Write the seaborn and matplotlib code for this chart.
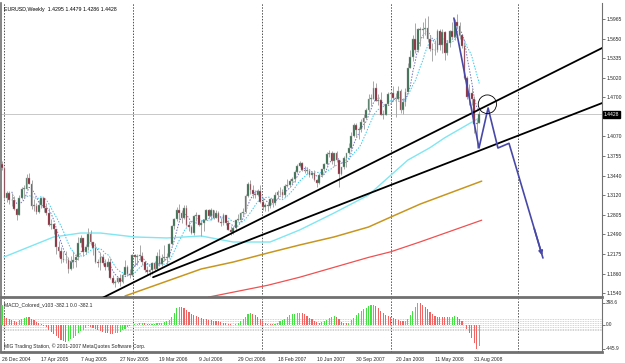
import numpy as np
import pandas as pd
import matplotlib.pyplot as plt
import seaborn as sns
from matplotlib.patches import Ellipse

# weekly EURUSD bars, first bar = week of 26 Dec 2004
first_open = 1.3620
closes = [1.3560, 1.3080, 1.3160, 1.3050, 1.3040, 1.2900, 1.2800, 1.3080, 1.3230, 1.3230,
          1.3400, 1.3310, 1.2950, 1.2950, 1.2850, 1.2960, 1.3070, 1.2920, 1.2840, 1.2640,
          1.2660, 1.2570, 1.2280, 1.2230, 1.2100, 1.2070, 1.2080, 1.1930, 1.2050, 1.2080,
          1.2120, 1.2350, 1.2430, 1.2200, 1.2280, 1.2500, 1.2370, 1.2270, 1.2040, 1.2030,
          1.2130, 1.2030, 1.1970, 1.2040, 1.1780, 1.1710, 1.1730, 1.1780, 1.1720, 1.1840,
          1.1970, 1.1850, 1.1840, 1.2160, 1.2120, 1.2140, 1.2150, 1.2040, 1.1920, 1.1880,
          1.1910, 1.2030, 1.1930, 1.2150, 1.2010, 1.2110, 1.2110, 1.2120, 1.2340, 1.2630,
          1.2740, 1.2890, 1.2830, 1.2750, 1.2920, 1.2640, 1.2610, 1.2520, 1.2790, 1.2810,
          1.2640, 1.2670, 1.2730, 1.2880, 1.2790, 1.2880, 1.2760, 1.2840, 1.2690, 1.2680,
          1.2800, 1.2680, 1.2560, 1.2530, 1.2600, 1.2720, 1.2730, 1.2840, 1.2850, 1.3110,
          1.3300, 1.3200, 1.3140, 1.3130, 1.3190, 1.3010, 1.2940, 1.2960, 1.2950, 1.3060,
          1.2990, 1.3130, 1.3170, 1.3180, 1.3120, 1.3270, 1.3290, 1.3350, 1.3390, 1.3500,
          1.3590, 1.3650, 1.3530, 1.3510, 1.3520, 1.3450, 1.3480, 1.3370, 1.3320, 1.3450,
          1.3540, 1.3620, 1.3780, 1.3810, 1.3680, 1.3800, 1.3690, 1.3470, 1.3570, 1.3730,
          1.3800, 1.3880, 1.4080, 1.4260, 1.4180, 1.4190, 1.4310, 1.4370, 1.4500, 1.4680,
          1.4680, 1.4850, 1.4640, 1.4660, 1.4420, 1.4420, 1.4590, 1.4750, 1.4770, 1.4690,
          1.4670, 1.4800, 1.4500, 1.4620, 1.4790, 1.5180, 1.5350, 1.5640, 1.5460, 1.5800,
          1.5780, 1.5810, 1.5820, 1.5640, 1.5480, 1.5460, 1.5470, 1.5770, 1.5540, 1.5760,
          1.5420, 1.5570, 1.5770, 1.5670, 1.5920, 1.5860, 1.5710, 1.5530, 1.5010, 1.4710,
          1.4770, 1.4670, 1.4270, 1.4295, 1.4428]
highs = [1.3667, 1.3580, 1.3190, 1.3190, 1.3160, 1.3110, 1.2910, 1.3120, 1.3260, 1.3280,
         1.3470, 1.3480, 1.3370, 1.3060, 1.2990, 1.3040, 1.3100, 1.3070, 1.2990, 1.2920,
         1.2740, 1.2680, 1.2570, 1.2390, 1.2290, 1.2220, 1.2220, 1.2120, 1.2140, 1.2220,
         1.2170, 1.2450, 1.2480, 1.2430, 1.2320, 1.2590, 1.2560, 1.2340, 1.2350, 1.2100,
         1.2210, 1.2180, 1.2090, 1.2110, 1.2110, 1.1840, 1.1760, 1.1810, 1.1850, 1.1870,
         1.2080, 1.2000, 1.1940, 1.2170, 1.2170, 1.2170, 1.2320, 1.2200, 1.2050, 1.1980,
         1.1940, 1.2050, 1.2060, 1.2200, 1.2250, 1.2180, 1.2320, 1.2190, 1.2360, 1.2640,
         1.2760, 1.2940, 1.2980, 1.2890, 1.2960, 1.2960, 1.2700, 1.2650, 1.2800, 1.2860,
         1.2810, 1.2720, 1.2740, 1.2900, 1.2900, 1.2910, 1.2890, 1.2880, 1.2870, 1.2760,
         1.2830, 1.2800, 1.2720, 1.2620, 1.2620, 1.2730, 1.2820, 1.2860, 1.2920, 1.3140,
         1.3330, 1.3367, 1.3290, 1.3200, 1.3230, 1.3280, 1.3070, 1.2990, 1.3010, 1.3080,
         1.3070, 1.3170, 1.3200, 1.3260, 1.3220, 1.3300, 1.3390, 1.3380, 1.3420, 1.3530,
         1.3620, 1.3680, 1.3660, 1.3600, 1.3570, 1.3540, 1.3490, 1.3530, 1.3390, 1.3480,
         1.3550, 1.3640, 1.3820, 1.3850, 1.3840, 1.3810, 1.3840, 1.3690, 1.3580, 1.3760,
         1.3810, 1.3960, 1.4150, 1.4280, 1.4290, 1.4230, 1.4350, 1.4430, 1.4530, 1.4750,
         1.4750, 1.4967, 1.4930, 1.4750, 1.4790, 1.4500, 1.4600, 1.4780, 1.4790, 1.4880,
         1.4770, 1.4880, 1.4830, 1.4690, 1.4860, 1.5250, 1.5460, 1.5700, 1.5900, 1.5820,
         1.5830, 1.5910, 1.5980, 1.6020, 1.5700, 1.5580, 1.5630, 1.5800, 1.5800, 1.5800,
         1.5770, 1.5620, 1.5780, 1.5910, 1.5960, 1.6038, 1.5920, 1.5730, 1.5570, 1.5040,
         1.4920, 1.4860, 1.4730, 1.4350, 1.4479]
lows = [1.3530, 1.3050, 1.3015, 1.2980, 1.2950, 1.2880, 1.2730, 1.2800, 1.3060, 1.3070,
        1.3220, 1.3300, 1.2900, 1.2870, 1.2820, 1.2830, 1.2910, 1.2860, 1.2810, 1.2620,
        1.2570, 1.2490, 1.2170, 1.2130, 1.2030, 1.2050, 1.2030, 1.1871, 1.1910, 1.1950,
        1.1960, 1.2080, 1.2280, 1.2150, 1.2170, 1.2240, 1.2320, 1.2160, 1.2030, 1.1960,
        1.1910, 1.1990, 1.1920, 1.1920, 1.1770, 1.1690, 1.1640, 1.1700, 1.1660, 1.1700,
        1.1830, 1.1820, 1.1780, 1.1820, 1.1980, 1.1990, 1.2080, 1.1990, 1.1880, 1.1860,
        1.1820, 1.1850, 1.1900, 1.1920, 1.1980, 1.1980, 1.2060, 1.2020, 1.2110, 1.2320,
        1.2580, 1.2700, 1.2730, 1.2670, 1.2740, 1.2620, 1.2540, 1.2500, 1.2480, 1.2710,
        1.2620, 1.2460, 1.2540, 1.2730, 1.2760, 1.2720, 1.2740, 1.2760, 1.2690, 1.2630,
        1.2650, 1.2650, 1.2560, 1.2480, 1.2500, 1.2550, 1.2700, 1.2720, 1.2790, 1.2840,
        1.3090, 1.3150, 1.3080, 1.3080, 1.3110, 1.3000, 1.2880, 1.2870, 1.2870, 1.2910,
        1.2940, 1.2970, 1.3070, 1.3120, 1.3080, 1.3100, 1.3250, 1.3250, 1.3310, 1.3340,
        1.3480, 1.3570, 1.3510, 1.3480, 1.3460, 1.3420, 1.3400, 1.3350, 1.3260, 1.3300,
        1.3410, 1.3510, 1.3610, 1.3740, 1.3620, 1.3600, 1.3660, 1.3260, 1.3450, 1.3550,
        1.3580, 1.3790, 1.3870, 1.4060, 1.4060, 1.4030, 1.4150, 1.4190, 1.4360, 1.4460,
        1.4560, 1.4680, 1.4640, 1.4580, 1.4420, 1.4350, 1.4410, 1.4570, 1.4590, 1.4650,
        1.4380, 1.4660, 1.4450, 1.4440, 1.4560, 1.4780, 1.5170, 1.5290, 1.5420, 1.5430,
        1.5530, 1.5660, 1.5710, 1.5600, 1.5450, 1.5280, 1.5380, 1.5440, 1.5460, 1.5420,
        1.5300, 1.5380, 1.5520, 1.5660, 1.5630, 1.5800, 1.5640, 1.5500, 1.5000, 1.4680,
        1.4580, 1.4580, 1.4130, 1.3880, 1.4286]

# MACD_Colored main line, in points
macd = [362, 150, 120, 100, 80, 60, 50, 80, 110, 130,
        150, 140, 110, 80, 50, 30, 10, -20, -50, -90,
        -130, -170, -210, -250, -280, -300, -312, -300, -270, -240,
        -200, -160, -120, -90, -60, -30, -40, -60, -80, -100,
        -120, -140, -150, -160, -165, -168, -160, -150, -130, -100,
        -70, -40, -20, -5, 5, 15, 25, 30, 25, 20,
        15, 18, 20, 30, 35, 40, 50, 60, 90, 140,
        220, 300, 330, 320, 300, 270, 240, 200, 180, 165,
        140, 120, 105, 100, 90, 85, 75, 70, 60, 45,
        40, 30, 20, 5, 0, 10, 25, 60, 100, 150,
        200, 220, 200, 170, 140, 110, 70, 40, 20, 15,
        10, 20, 35, 60, 80, 110, 140, 170, 190, 205,
        215, 220, 215, 190, 160, 130, 100, 70, 50, 40,
        45, 60, 90, 130, 150, 160, 140, 100, 50, 30,
        25, 40, 80, 130, 180, 220, 250, 280, 310, 340,
        355, 362, 340, 300, 260, 220, 180, 160, 141, 120,
        100, 85, 70, 60, 65, 110, 180, 260, 330, 398.6,
        390, 360, 330, 290, 240, 200, 165, 150, 150, 145,
        140, 135, 140, 145, 160, 150, 110, 60, 0, -80,
        -160, -250, -340, -445.9, -382.1]
macd_levels = [398.6, 0.0, -445.9]

# slow moving averages (bar, price)
cyan_bars = [0.8, 21, 32, 40, 54, 67, 81, 94, 109, 121, 135, 149, 165, 174, 180, 187, 194]
cyan_vals = [1.2126, 1.2449, 1.2513, 1.2513, 1.2449, 1.2433, 1.2465, 1.2368, 1.2368, 1.2562,
             1.2836, 1.3126, 1.3690, 1.3890, 1.4050, 1.4210, 1.4370]
gold_bars = [50, 81, 94, 108, 121, 135, 149, 158, 170, 195]
gold_vals = [1.1497, 1.1933, 1.2045, 1.2190, 1.2320, 1.2450, 1.2610, 1.2770, 1.2980, 1.3350]
red_bars = [84, 108, 121, 135, 149, 158, 170, 195]
red_vals = [1.1480, 1.1670, 1.1800, 1.1960, 1.2120, 1.2210, 1.2370, 1.2720]

# hand drawn objects
trend_a = [(38.0, 1.1410), (244.0, 1.5498)]
trend_b = [(61.4, 1.1800), (244.0, 1.4610)]
zigzag_bars = [183.7, 193.9, 197.6, 201.6, 206.1, 219.9]
zigzag_vals = [1.5980, 1.3884, 1.4530, 1.3884, 1.3960, 1.2110]
circle_at = (197.3, 1.4590)

price_ticks = [1.5965, 1.5650, 1.5335, 1.5020, 1.4700, 1.4070, 1.3755, 1.3440,
               1.3120, 1.2805, 1.2490, 1.2175, 1.1860, 1.1540]
last_price = 1.4428
date_labels = ["26 Dec 2004", "17 Apr 2005", "7 Aug 2005", "27 Nov 2005", "19 Mar 2006",
               "9 Jul 2006", "29 Oct 2006", "18 Feb 2007", "10 Jun 2007", "30 Sep 2007",
               "20 Jan 2008", "11 May 2008", "31 Aug 2008"]
grid_bars = [0.8, 53.3, 105.7, 158.1, 209.8]

sns.set_style("white")
plt.rcParams['font.family'] = ['Liberation Sans', 'DejaVu Sans']

n = len(closes)
bars = np.arange(n)
opens = np.array([first_open] + closes[:-1])
c = np.array(closes)
df = pd.DataFrame({"bar": bars, "close": c})
df["fast"] = df["close"].rolling(5).mean()
df["mid"] = df["close"].rolling(10).mean()

W, H = 625, 363


def frac(x0, y0, x1, y1):
    return [x0 / W, 1 - y1 / H, (x1 - x0) / W, (y1 - y0) / H]


fig = plt.figure(figsize=(6.25, 3.63), dpi=100)
ax = fig.add_axes(frac(1, 3, 602, 297))
axm = fig.add_axes(frac(1, 299, 602, 352), sharex=ax)
xmax = (602 - 2) / 2.46
ax.set_xlim(-0.4, xmax)
ax.set_ylim(1.1481, 1.6223)
axm.set_ylim(-501, 472)

for b in grid_bars:
    for a in (ax, axm):
        a.axvline(b, color="#505050", lw=0.7, ls=(0, (1.5, 1.5)), zorder=1)
ax.axhline(last_price, color="#c8c8c8", lw=0.7, zorder=1)

# slow lines
sns.lineplot(x=cyan_bars, y=cyan_vals, ax=ax, color="#7fe6f2", lw=1.0, zorder=2)
sns.lineplot(x=gold_bars, y=gold_vals, ax=ax, color="#c8961e", lw=1.1, zorder=2)
sns.lineplot(x=red_bars, y=red_vals, ax=ax, color="#f05050", lw=0.9, zorder=2)
sns.lineplot(data=df, x="bar", y="mid", ax=ax, color="#38c8f0", lw=0.7,
             ls=(0, (1.5, 1.5)), zorder=2)
sns.lineplot(data=df, x="bar", y="fast", ax=ax, color="#7070c0", lw=0.7,
             ls=(0, (1.5, 1.5)), zorder=2)

# candles
up = c >= opens
ax.vlines(bars, lows, highs, color="#a8a8a8", lw=0.7, zorder=3)
body_lo = np.minimum(opens, c)
body_h = np.maximum(np.abs(c - opens), 0.0012)
ax.bar(bars, body_h, bottom=body_lo, width=0.72,
       color=np.where(up, "#2d6a48", "#8a1c30"), edgecolor="#a8a8a8", lw=0.3, zorder=4)

# trend lines, extended to the right edge
for (x0, y0), (x1, y1) in (trend_a, trend_b):
    ax.plot([x0, x1], [y0, y1], color="black", lw=1.3, zorder=5)
ax.plot(zigzag_bars, zigzag_vals, color="#4848a8", lw=1.2, zorder=6)
ax.annotate("", xy=(zigzag_bars[-1], zigzag_vals[-1]),
            xytext=(zigzag_bars[-2] + 0.72 * (zigzag_bars[-1] - zigzag_bars[-2]),
                    zigzag_vals[-2] + 0.72 * (zigzag_vals[-1] - zigzag_vals[-2])),
            arrowprops=dict(arrowstyle="-|>", color="#4848a8", lw=1.2,
                            mutation_scale=6), zorder=6)
ax.add_patch(Ellipse(circle_at, 7.4, 0.03, fill=False, color="black", lw=0.6, zorder=6))

# price axis
ax.yaxis.tick_right()
ax.set_yticks(price_ticks)
ax.set_yticklabels([f"{p:.4f}" for p in price_ticks])
ax.tick_params(axis="y", length=2, width=0.6, color="#606060", labelsize=3.6, pad=1.2)
ax.tick_params(axis="x", bottom=False, labelbottom=False)
ax.text(1.003, last_price, f"{last_price:.4f}", transform=ax.get_yaxis_transform(),
        fontsize=3.6, color="white", va="center", ha="left",
        bbox=dict(boxstyle="square,pad=0.15", fc="black", ec="black"))
ax.text(0.005, 0.985, "EURUSD,Weekly  1.4295 1.4479 1.4286 1.4428", transform=ax.transAxes,
        fontsize=3.8, va="top", ha="left", color="black")
ax.set_xlabel("")
ax.set_ylabel("")

# MACD panel
macd = np.array(macd)
rising = np.concatenate([[True], macd[1:] > macd[:-1]])
axm.bar(bars, macd, width=0.45, color=np.where(rising, "#44e044", "#f06464"), lw=0, zorder=3)
for lvl in (110, 75, 40, 0, -35, -70, -100):
    axm.axhline(lvl, color="#c4c4c4", lw=0.6, ls=(0, (1, 1)), zorder=2)
axm.text(478, -300, "-1.34", fontsize=3.8, color="#c8c8c8", ha="left", va="center")
axm.text(0.005, 0.93, "MACD_Colored_v103 -382.1 0.0 -382.1", transform=axm.transAxes,
         fontsize=3.6, va="top", ha="left")
axm.text(0.005, 0.05, "MIG Trading Station, \u00a9 2001-2007 MetaQuotes Software Corp.",
         transform=axm.transAxes, fontsize=3.6, va="bottom", ha="left")
axm.yaxis.tick_right()
axm.set_yticks(macd_levels)
axm.set_yticklabels([])
axm.tick_params(axis="y", length=2, width=0.6, color="#606060")
for lvl in macd_levels:
    axm.text(1.006, lvl, f"{lvl:.1f}", transform=axm.get_yaxis_transform(),
             fontsize=3.4, va="center", ha="left")
axm.set_xticks(np.arange(0, 16 * len(date_labels), 16))
axm.set_xticklabels(date_labels)
for lab in axm.get_xticklabels():
    lab.set_horizontalalignment("left")
axm.tick_params(axis="x", length=2, width=0.6, color="#606060", labelsize=3.6, pad=1.5)
axm.set_xlabel("")
axm.set_ylabel("")

for a in (ax, axm):
    for s in a.spines.values():
        s.set_color("#707070")
        s.set_linewidth(0.8)
    a.spines["top"].set_visible(False)
    a.spines["bottom"].set_linewidth(2.0)
ax.spines["left"].set_linewidth(1.2)
axm.spines["left"].set_linewidth(1.2)

fig.savefig("out.png", dpi=100)
